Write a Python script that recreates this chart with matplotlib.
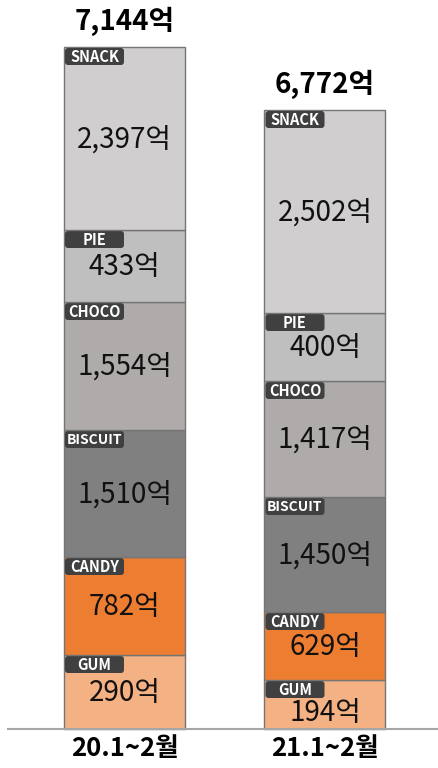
import matplotlib
matplotlib.use("Agg")
import matplotlib.pyplot as plt
from matplotlib.patches import FancyBboxPatch

plt.rcParams["font.family"] = ["Noto Sans CJK KR", "DejaVu Sans"]

periods = ["20.1~2월", "21.1~2월"]
totals = ["7,144억", "6,772억"]
categories = ["GUM", "CANDY", "BISCUIT", "CHOCO", "PIE", "SNACK"]
values_20 = [290, 782, 1510, 1554, 433, 2397]
values_21 = [194, 629, 1450, 1417, 400, 2502]
# drawn heights of each block (the chart is not to scale)
drawn_20 = [74, 98, 127, 128, 72, 183]
drawn_21 = [49, 68, 115, 116, 68, 203]

colors = ["#f4b183", "#ed7d31", "#808080", "#afabab", "#bfbfbf", "#d0cece"]

fig = plt.figure(figsize=(4.39, 7.68), dpi=100)
ax = fig.add_axes([0, 0, 1, 1])
ax.set_xlim(0, 439)
ax.set_ylim(-39, 729)
ax.axis("off")

centers = [124.5, 325]
bar_w = 121
tag_w, tag_h = 61, 17

for xc, vals, hs, total in zip(centers, [values_20, values_21], [drawn_20, drawn_21], totals):
    bottom = 0
    for cat, v, h, c in zip(categories, vals, hs, colors):
        ax.bar(xc, h, bottom=bottom, width=bar_w, color=c, edgecolor="#757575", linewidth=1.0)
        left = xc - bar_w / 2
        top = bottom + h
        # small blocks: keep the value clear of the tag
        ly = bottom + h / 2 - 1 if h > 55 else bottom + (h - tag_h) / 2
        ax.text(xc, ly, f"{v:,}억", ha="center", va="center",
                fontsize=20, fontweight="light", color="#111111")
        tag = FancyBboxPatch((left + 1, top - tag_h - 1), tag_w - 2, tag_h,
                             boxstyle="round,pad=0,rounding_size=3",
                             facecolor="#404040", edgecolor="none")
        ax.add_patch(tag)
        ax.text(left + tag_w / 2, top - tag_h / 2 - 1.5, cat, ha="center", va="center",
                fontsize=10.5 if len(cat) < 7 else 10, fontweight="bold", color="white")
        bottom += h
    ax.text(xc, bottom + 26, total, ha="center", va="center",
            fontsize=20, fontweight="bold", color="black")

ax.plot([7, 439], [0, 0], color="#a6a6a6", linewidth=1.5, solid_capstyle="butt")

for xc, p in zip(centers, periods):
    ax.text(xc, -19, p, ha="center", va="center", fontsize=18.5, fontweight="bold", color="black")

fig.savefig("out.png", dpi=100)
